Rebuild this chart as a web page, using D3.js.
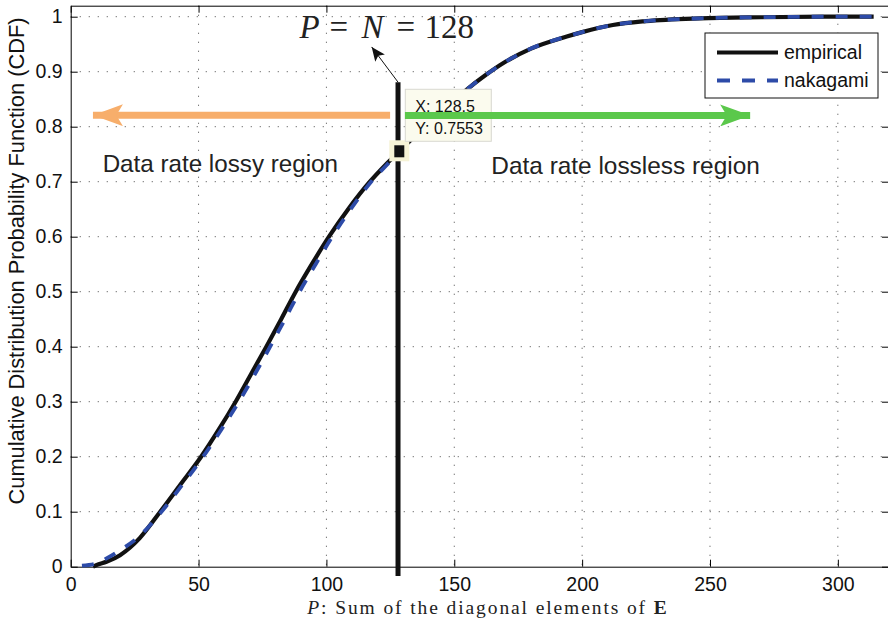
<!DOCTYPE html>
<html>
<head>
<meta charset="utf-8">
<script src="https://cdn.jsdelivr.net/npm/d3@7/dist/d3.min.js"></script>
<style>
  html, body { margin: 0; padding: 0; background: #fff; }
  svg { display: block; }
  .sans { font-family: "Liberation Sans", Arial, Helvetica, sans-serif; }
  .serif { font-family: "Liberation Serif", "Times New Roman", serif; }
</style>
</head>
<body>
<svg id="chart" width="888" height="619"></svg>
<script>
// Empirical CDF of P (sum of the diagonal elements of E)
const empiricalX = [8.7, 10, 14, 19.3, 27, 35, 43, 51, 58, 64.5, 70.5, 76.5, 82.3, 88, 94.3, 101, 108.5, 117, 123, 128.5,
                    135, 142, 148, 155, 162, 170, 180, 194, 200, 212, 225, 246, 270, 300, 314];
const empiricalY = [0, 0.003, 0.009, 0.021, 0.052, 0.1, 0.15, 0.2, 0.25, 0.3, 0.35, 0.4, 0.45, 0.5, 0.55, 0.6, 0.65, 0.7, 0.73, 0.755,
                    0.785, 0.815, 0.84, 0.868, 0.893, 0.918, 0.942, 0.964, 0.972, 0.985, 0.992, 0.997, 0.999, 1.0, 1.0];

// Fitted Nakagami CDF
const nakagamiX = [4.4, 10, 14, 19.3, 27, 35, 43, 51.8, 59, 65.8, 72, 78, 83.8, 89.5, 95.8, 102.3, 109.5, 117.5, 123.5, 130,
                   135, 142, 148, 155, 162, 170, 180, 194, 200, 212, 225, 246, 270, 300, 314];
const nakagamiY = [0.002, 0.006, 0.015, 0.03, 0.056, 0.097, 0.145, 0.2, 0.25, 0.3, 0.35, 0.4, 0.45, 0.5, 0.55, 0.6, 0.65, 0.7, 0.73, 0.762,
                   0.785, 0.815, 0.84, 0.868, 0.893, 0.918, 0.942, 0.964, 0.972, 0.985, 0.992, 0.997, 0.999, 1.0, 1.0];

const xTicks = [0, 50, 100, 150, 200, 250, 300];
const yTicks = [0, 0.1, 0.2, 0.3, 0.4, 0.5, 0.6, 0.7, 0.8, 0.9, 1];
const yTickLabels = ["0", "0.1", "0.2", "0.3", "0.4", "0.5", "0.6", "0.7", "0.8", "0.9", "1"];

const seriesNames = ["empirical", "nakagami"];
const threshold = 128;          // P = N = 128
const tipPoint = [128.5, 0.7553];

const svg = d3.select("#chart");
const plotLeft = 70.7, plotRight = 889, plotTop = 5.7, plotBottom = 566.7;

const x = d3.scaleLinear().domain([0, 320]).range([plotLeft, plotRight]);
const y = d3.scaleLinear().domain([0, 1.02]).range([plotBottom, plotTop]);

// dotted grid
const grid = svg.append("g").attr("stroke", "#666").attr("stroke-width", 1)
  .attr("stroke-dasharray", "1.2,7.8");
grid.selectAll("line.v").data(xTicks.filter(d => d > 0)).join("line").attr("class", "v")
  .attr("x1", d => x(d)).attr("x2", d => x(d)).attr("y1", plotTop).attr("y2", plotBottom);
grid.selectAll("line.h").data(yTicks.filter(d => d > 0)).join("line").attr("class", "h")
  .attr("x1", plotLeft).attr("x2", plotRight).attr("y1", d => y(d)).attr("y2", d => y(d));

// axes with inward ticks
const fmtY = d => yTickLabels[yTicks.indexOf(d)];
svg.append("g").attr("transform", `translate(0,${plotBottom})`)
  .call(d3.axisBottom(x).tickValues(xTicks).tickSize(-7).tickPadding(10.5).tickSizeOuter(0))
  .call(g => g.selectAll("text").attr("class", "sans").attr("font-size", 19.5).attr("fill", "#111"));
svg.append("g").attr("transform", `translate(0,${plotTop})`)
  .call(d3.axisTop(x).tickValues(xTicks).tickSize(-7).tickSizeOuter(0).tickFormat(""));
svg.append("g").attr("transform", `translate(${plotLeft},0)`)
  .call(d3.axisLeft(y).tickValues(yTicks).tickFormat(fmtY).tickSize(-7).tickPadding(8).tickSizeOuter(0))
  .call(g => g.selectAll("text").attr("class", "sans").attr("font-size", 19.5).attr("fill", "#111"));
svg.append("g").attr("transform", `translate(${plotRight},0)`)
  .call(d3.axisRight(y).tickValues(yTicks).tickSize(-7).tickSizeOuter(0).tickFormat(""));
svg.selectAll(".domain").attr("stroke", "#000");
svg.selectAll(".tick line").attr("stroke", "#000");

// curves
const line = d3.line().x(d => x(d[0])).y(d => y(d[1])).curve(d3.curveMonotoneX);
const empirical = empiricalX.map((v, i) => [v, empiricalY[i]]);
const nakagami = nakagamiX.map((v, i) => [v, nakagamiY[i]]);
svg.append("path").datum(empirical).attr("d", line)
  .attr("fill", "none").attr("stroke", "#111").attr("stroke-width", 4.2);
svg.append("path").datum(nakagami).attr("d", line)
  .attr("fill", "none").attr("stroke", "#2d4ba8").attr("stroke-width", 3.8)
  .attr("stroke-dasharray", "12,12");

// threshold line at P = N
svg.append("line")
  .attr("x1", x(threshold)).attr("x2", x(threshold))
  .attr("y1", y(0.881)).attr("y2", y(-0.017))
  .attr("stroke", "#111").attr("stroke-width", 5);

// arrow heads
const defs = svg.append("defs");
function head(id, color, w, h) {
  defs.append("marker").attr("id", id).attr("viewBox", `0 0 ${w} ${h}`)
    .attr("refX", w).attr("refY", h / 2).attr("markerWidth", w).attr("markerHeight", h)
    .attr("markerUnits", "userSpaceOnUse").attr("orient", "auto")
    .append("path").attr("d", `M0,0 L${w},${h / 2} L0,${h} L${w * 0.22},${h / 2} Z`).attr("fill", color);
}
head("hOrange", "#f7ae6b", 30, 22);
head("hGreen", "#5bc84b", 30, 22);
head("hBlack", "#111", 14, 12);

// lossy arrow
svg.append("line").attr("x1", x(124.9)).attr("x2", x(8.7)).attr("y1", y(0.821)).attr("y2", y(0.821))
  .attr("stroke", "#f7ae6b").attr("stroke-width", 7).attr("marker-end", "url(#hOrange)");

// pointer to the threshold label
svg.append("line").attr("x1", x(128)).attr("y1", y(0.881)).attr("x2", x(117.7)).attr("y2", y(0.945))
  .attr("stroke", "#111").attr("stroke-width", 1).attr("marker-end", "url(#hBlack)");

// data tip
const tx = x(tipPoint[0]), ty = y(tipPoint[1]);
svg.append("rect").attr("x", tx - 10).attr("y", ty - 11).attr("width", 20).attr("height", 21)
  .attr("fill", "#f6f3d6");
svg.append("rect").attr("x", tx + 6).attr("y", ty - 62).attr("width", 86).attr("height", 52)
  .attr("fill", "#fbfbee").attr("stroke", "#d8d8d0").attr("stroke-width", 1);
const tip = svg.append("text").attr("class", "sans").attr("font-size", 16).attr("fill", "#111");
tip.append("tspan").attr("x", tx + 16).attr("y", ty - 39).text("X: " + tipPoint[0]);
tip.append("tspan").attr("x", tx + 16).attr("y", ty - 17).text("Y: " + tipPoint[1]);
svg.append("rect").attr("x", tx - 5).attr("y", ty - 6).attr("width", 10).attr("height", 12).attr("fill", "#111");

// lossless arrow
svg.append("line").attr("x1", x(130.7)).attr("x2", x(265.7)).attr("y1", y(0.8205)).attr("y2", y(0.8205))
  .attr("stroke", "#5bc84b").attr("stroke-width", 7).attr("marker-end", "url(#hGreen)");

// region captions
svg.append("text").attr("class", "sans").attr("font-size", 24.2).attr("fill", "#222")
  .attr("x", x(12.5)).attr("y", 172).text("Data rate lossy region");
svg.append("text").attr("class", "sans").attr("font-size", 24.4).attr("fill", "#222")
  .attr("x", x(164.5)).attr("y", 174).text("Data rate lossless region");

// threshold label P = N = 128
const lbl = svg.append("text").attr("class", "serif").attr("font-size", 33).attr("fill", "#222").attr("y", 38);
const lx = x(threshold) - 98.6;
lbl.append("tspan").attr("x", lx).attr("font-style", "italic").text("P");
lbl.append("tspan").attr("x", lx + 30).text("=");
lbl.append("tspan").attr("x", lx + 62).attr("font-style", "italic").text("N");
lbl.append("tspan").attr("x", lx + 97).text("=");
lbl.append("tspan").attr("x", lx + 125).text("128");

// legend
const lg = svg.append("g").attr("transform", "translate(705,33)");
lg.append("rect").attr("width", 173).attr("height", 65).attr("fill", "#fff").attr("stroke", "#111").attr("stroke-width", 1);
lg.append("line").attr("x1", 12).attr("x2", 73).attr("y1", 19.5).attr("y2", 19.5)
  .attr("stroke", "#111").attr("stroke-width", 4.2);
lg.append("line").attr("x1", 12).attr("x2", 73).attr("y1", 47.5).attr("y2", 47.5)
  .attr("stroke", "#2d4ba8").attr("stroke-width", 3.8).attr("stroke-dasharray", "13,12");
lg.selectAll("text.lab").data(seriesNames).join("text").attr("class", "sans lab")
  .attr("font-size", 19.5).attr("fill", "#111")
  .attr("x", 79).attr("y", (d, i) => 26 + i * 28).text(d => d);

// axis titles
svg.append("text").attr("class", "sans").attr("font-size", 21.8).attr("fill", "#111")
  .attr("text-anchor", "middle")
  .attr("transform", `translate(24,261) rotate(-90)`)
  .text("Cumulative Distribution Probability Function (CDF)");
const xt = svg.append("text").attr("class", "serif").attr("font-size", 19.5).attr("fill", "#222")
  .attr("letter-spacing", 1.9)
  .attr("text-anchor", "middle").attr("x", 488).attr("y", 614);
xt.append("tspan").attr("font-style", "italic").text("P");
xt.append("tspan").text(":  Sum of the diagonal elements of ");
xt.append("tspan").attr("font-weight", "bold").text("E");
</script>
</body>
</html>
